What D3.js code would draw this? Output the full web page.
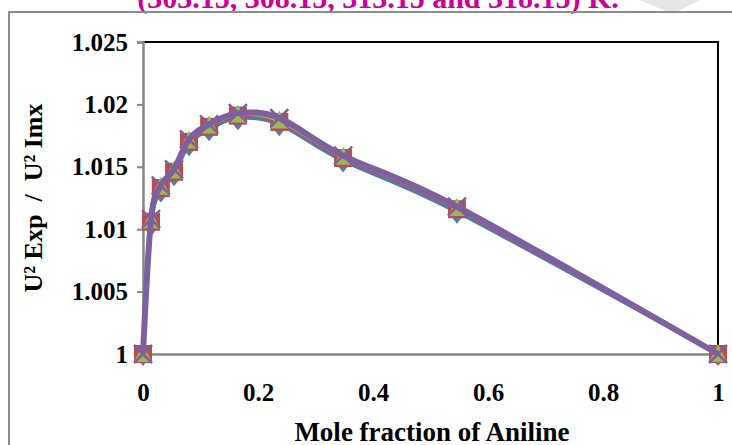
<!DOCTYPE html>
<html>
<head>
<meta charset="utf-8">
<script src="https://cdn.jsdelivr.net/npm/d3@7"></script>
<style>
  body { margin: 0; background: #fff; }
  svg { display: block; font-family: "Liberation Serif", "Times New Roman", serif; }
</style>
</head>
<body>
<div id="viz"></div>
<script>
// mole fraction of aniline
const moleFraction = [0, 0.014, 0.031, 0.054, 0.080, 0.115, 0.165, 0.237, 0.348, 0.546, 1];

// U2 exp / U2 imx at the four temperatures
const t30315 = [1, 1.0104, 1.0131, 1.0144, 1.0168, 1.0180, 1.0189, 1.0184, 1.0155, 1.0114, 1];
const t30815 = [1, 1.0106, 1.0133, 1.0146, 1.0170, 1.0182, 1.0191, 1.0186, 1.0157, 1.0116, 1];
const t31315 = [1, 1.0107, 1.0134, 1.0147, 1.0171, 1.0183, 1.0192, 1.0187, 1.0158, 1.0117, 1];
const t31815 = [1, 1.0108, 1.0135, 1.0148, 1.0172, 1.0184, 1.0193, 1.0189, 1.0159, 1.0118, 1];

const xTicks = [0, 0.2, 0.4, 0.6, 0.8, 1];
const yTicks = [1, 1.005, 1.01, 1.015, 1.02, 1.025];

const series = [
  { values: t30315, color: "#4a7ebb", marker: "diamond" },
  { values: t30815, color: "#be4b48", marker: "square" },
  { values: t31315, color: "#98b954", marker: "triangle" },
  { values: t31815, color: "#7d60a0", marker: "cross" }
];

function createVizualization() {
  const width = 732;
  const height = 445;
  const plot = { left: 143, right: 718, top: 42, bottom: 354 };

  const svg = d3
    .select("#viz")
    .append("svg")
    .attr("width", width)
    .attr("height", height);

  // faint watermark at the top
  svg
    .append("path")
    .attr("d", "M640,0 L700,0 L672,14 Z M455,0 L470,0 L462,8 Z")
    .attr("fill", "#e6e6e6");

  // title, cut off at the top
  svg
    .append("text")
    .attr("x", 378)
    .attr("y", 8)
    .attr("text-anchor", "middle")
    .style("font-size", "30px")
    .style("font-weight", "bold")
    .style("fill", "#cc0099")
    .text("(303.15, 308.15, 313.15 and 318.15) K.");

  // outer chart frame
  svg
    .append("path")
    .attr("d", `M9,${height} L9,12 L${width},12`)
    .attr("fill", "none")
    .attr("stroke", "#8c8c8c")
    .attr("stroke-width", 2);

  const x = d3.scaleLinear().domain([0, 1]).range([plot.left, plot.right]);
  const y = d3.scaleLinear().domain([1, 1.025]).range([plot.bottom, plot.top]);

  // plot area border (top and right in black)
  svg
    .append("path")
    .attr("d", `M${plot.left},${plot.top} L${plot.right},${plot.top} L${plot.right},${plot.bottom}`)
    .attr("fill", "none")
    .attr("stroke", "#000")
    .attr("stroke-width", 2);

  // y axis
  const yAxis = svg
    .append("g")
    .attr("transform", `translate(${plot.left},0)`)
    .call(d3.axisLeft(y).tickValues(yTicks).tickSize(6).tickPadding(9).tickFormat((d) => d3.format("")(+d.toFixed(3))));
  yAxis.select(".domain").attr("stroke", "#868686").attr("stroke-width", 2.5);
  yAxis.selectAll(".tick line").attr("stroke", "#868686").attr("stroke-width", 2);
  yAxis
    .selectAll(".tick text")
    .attr("fill", "#000")
    .style("font-size", "25px")
    .style("font-weight", "bold")
    .style("font-family", "'Liberation Serif', serif");

  // x axis
  const xAxis = svg
    .append("g")
    .attr("transform", `translate(0,${plot.bottom})`)
    .call(d3.axisBottom(x).tickValues(xTicks).tickSize(0).tickPadding(29).tickFormat(d3.format("")));
  xAxis.select(".domain").attr("stroke", "#868686").attr("stroke-width", 2.5);
  xAxis
    .selectAll(".tick text")
    .attr("fill", "#000")
    .style("font-size", "25px")
    .style("font-weight", "bold")
    .style("font-family", "'Liberation Serif', serif");

  // axis titles
  svg
    .append("text")
    .attr("x", 432)
    .attr("y", 441)
    .attr("text-anchor", "middle")
    .style("font-size", "27px")
    .style("font-weight", "bold")
    .text("Mole fraction of Aniline");

  svg
    .append("text")
    .attr("transform", "translate(42,198) rotate(-90)")
    .attr("text-anchor", "middle")
    .attr("xml:space", "preserve")
    .style("white-space", "pre")
    .style("font-size", "26px")
    .style("font-weight", "bold")
    .text("U\u00b2 Exp  /  U\u00b2 Imx");

  const line = d3
    .line()
    .x((d) => x(d[0]))
    .y((d) => y(d[1]))
    .curve(d3.curveCardinal.tension(0));

  // one group per series: line then markers
  series.forEach((s, k) => {
    const pts = moleFraction.map((m, i) => [m, s.values[i]]);
    const g = svg.append("g");

    g.append("path")
      .datum(pts)
      .attr("d", line)
      .attr("fill", "none")
      .attr("stroke", s.color)
      .attr("stroke-width", k === 3 ? 6 : 4)
      .attr("stroke-linejoin", "round");

    const marks = g
      .selectAll("g.mark")
      .data(pts)
      .enter()
      .append("g")
      .attr("transform", (d) => `translate(${x(d[0])},${y(d[1])})`);

    if (s.marker === "diamond") {
      marks.append("path").attr("d", "M0,-8 L8,2 L0,12 L-8,2 Z").attr("fill", s.color);
    } else if (s.marker === "square") {
      marks.append("rect").attr("x", -9).attr("y", -9).attr("width", 18).attr("height", 18).attr("fill", s.color);
    } else if (s.marker === "triangle") {
      marks.append("path").attr("d", "M0,-10 L9,8 L-9,8 Z").attr("fill", s.color);
    } else {
      marks
        .append("path")
        .attr("d", "M-9,-9 L9,9 M9,-9 L-9,9")
        .attr("stroke", s.color)
        .attr("stroke-width", 2.5);
    }
  });
}

createVizualization();
</script>
</body>
</html>
